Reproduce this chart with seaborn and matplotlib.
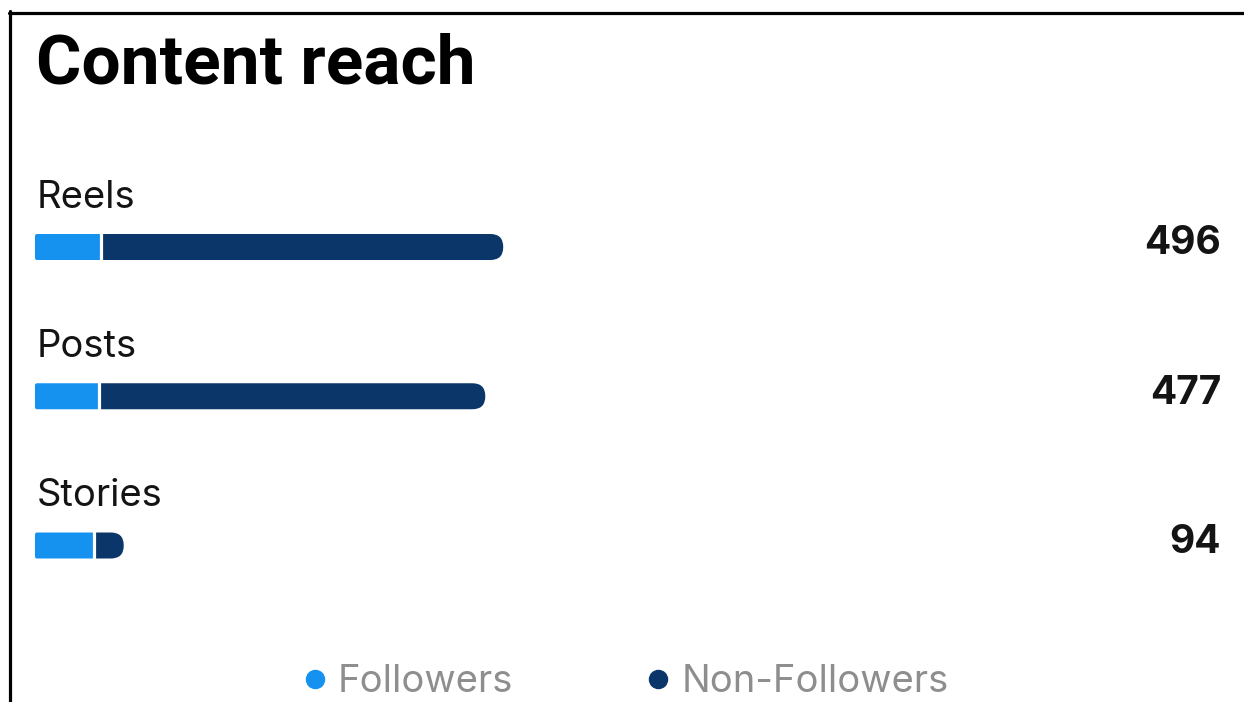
import matplotlib
matplotlib.use("Agg")
import matplotlib.pyplot as plt
from matplotlib.patches import FancyBboxPatch, Rectangle
from matplotlib.lines import Line2D
import seaborn as sns
import pandas as pd

# Reach per content type, split by audience
channels = ["Reels", "Posts", "Stories"]
followers = [70, 68, 63]
non_followers = [426, 409, 31]
totals = [496, 477, 94]
legend_labels = ["Followers", "Non-Followers"]

LIGHT = "#1592f0"
DARK = "#0b3669"
GREY = "#8e8e8e"
INK = "#141414"

sns.set_theme(style="white")
plt.rcParams["font.family"] = ["Inter", "DejaVu Sans"]

W, H = 1244, 702
fig = plt.figure(figsize=(W / 100, H / 100), dpi=100)
fig.patch.set_facecolor("white")


def fx(x):
    return x / W


def fy(y):
    return 1 - y / H


# axes laid out in pixel terms: one category row every ~149 px
row_px = 149.25
first_row = 247
ax_left, ax_right = 35, 1221
top_px = first_row - 0.6 * row_px
bot_px = first_row + 2.6 * row_px
ax = fig.add_axes([fx(ax_left), fy(bot_px), (ax_right - ax_left) / W, (bot_px - top_px) / H])

df = pd.DataFrame({"channel": channels, "followers": followers,
                   "non_followers": non_followers, "total": totals})
bar_h = 26 / row_px
# stacked bar: full total in dark underneath, followers share on top
sns.barplot(data=df, x="total", y="channel", orient="h", color=DARK,
            saturation=1, width=bar_h, ax=ax)
sns.barplot(data=df, x="followers", y="channel", orient="h", color=LIGHT,
            saturation=1, width=bar_h, ax=ax)
px_per_unit = 0.944
ax.set_xlim(0, (ax_right - ax_left) / px_per_unit)
ax.set_ylim(2.6, -0.6)
ax.set_axis_off()

# swap plain rectangles for rounded ones
p0 = ax.transData.transform((0, 0))
p1 = ax.transData.transform((1, 1))
px_x = abs(p1[0] - p0[0])
px_y = abs(p1[1] - p0[1])
aspect = px_x / px_y
n = len(channels)
bars = list(ax.patches)
for k, p in enumerate(bars):
    x, y, w, h = p.get_x(), p.get_y(), p.get_width(), p.get_height()
    fc = p.get_facecolor()
    p.remove()
    is_total = k < n
    r_px = (h * px_y) / 2 * 0.99 if is_total else 2.0
    fb = FancyBboxPatch((x, y), w, h,
                        boxstyle=f"round,pad=0,rounding_size={r_px / px_x}",
                        mutation_aspect=aspect, facecolor=fc, edgecolor="none")
    ax.add_patch(fb)
    if is_total:
        # the dark part only shows to the right of the followers share
        f = followers[k]
        clip = Rectangle((f, y - h), w * 2, h * 3, transform=ax.transData)
        fb.set_clip_path(clip)

# thin white gap between the two segments
for i, f in enumerate(followers):
    ax.vlines(f, i - bar_h / 2 - 0.01, i + bar_h / 2 + 0.01, colors="white", lw=2.3)

for i, (name, total) in enumerate(zip(channels, totals)):
    ax.annotate(name, xy=(0, i), xytext=(2, 39), textcoords="offset pixels",
                va="baseline", ha="left", fontsize=27.5, color=INK,
                annotation_clip=False)
    ax.annotate(f"{total}", xy=(1, i), xycoords=("axes fraction", "data"),
                xytext=(0, 3), textcoords="offset pixels", ha="right", va="center",
                fontsize=28, fontweight="bold", color=INK,
                annotation_clip=False)

fig.text(fx(36), fy(83), "Content reach", fontsize=50, fontweight="bold",
         family=["Roboto", "DejaVu Sans"], va="baseline", ha="left", color="black")

handles = [Line2D([], [], marker="o", ls="none", mfc=c, mec=c, ms=13)
           for c in (LIGHT, DARK)]
fig.legend(handles, legend_labels, loc="center", bbox_to_anchor=(fx(627), fy(682)),
           ncol=2, frameon=False, fontsize=27.5, labelcolor=GREY,
           handlelength=0.5, handletextpad=0.35, columnspacing=3.55)

# frame lines on the top and left edges
fig.add_artist(Line2D([fx(10), fx(10)], [fy(11), 0], transform=fig.transFigure,
                      color="black", lw=2.3))
fig.add_artist(Line2D([fx(9), 1], [fy(12.5), fy(12.5)], transform=fig.transFigure,
                      color="black", lw=2.3))

fig.savefig("out.png", dpi=100, facecolor="white")
